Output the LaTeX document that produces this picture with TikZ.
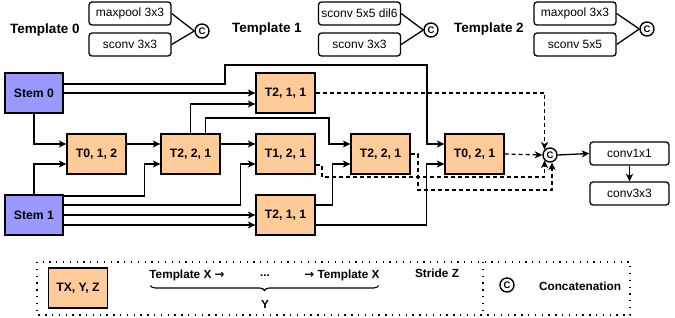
\documentclass[tikz,border=0pt]{standalone}
\usepackage{fontspec}
\setmainfont{Liberation Sans}
\newfontfamily\arrowfont{DejaVu Sans}
\usepackage{xcolor}
\usetikzlibrary{arrows.meta, calc, decorations.pathreplacing}

\definecolor{stemblue}{RGB}{153,153,255}
\definecolor{blockorange}{RGB}{255,204,153}

\begin{document}
\begin{tikzpicture}[
    x=1pt, y=-1pt,
    line width=1.3pt,
    stem/.style={draw, rectangle, minimum width=58pt, minimum height=40pt, fill=stemblue, font=\fontsize{12.2}{14}\selectfont\bfseries},
    block/.style={draw, rectangle, minimum width=59pt, minimum height=40pt, fill=blockorange, font=\fontsize{12.2}{14}\selectfont\bfseries},
    opbox/.style={draw, rectangle, rounded corners=3pt, minimum width=82pt, minimum height=23pt, inner sep=1pt, font=\fontsize{12}{14}\selectfont},
    convbox/.style={draw, rectangle, rounded corners=3pt, minimum width=79pt, minimum height=23pt, font=\fontsize{12}{14}\selectfont},
    concat/.style={draw, circle, minimum size=14pt, inner sep=0pt, line width=1.4pt, font=\fontsize{9.5}{9.5}\selectfont\bfseries},
    tplname/.style={font=\fontsize{13.5}{15}\selectfont\bfseries},
    legtext/.style={font=\fontsize{11.8}{13}\selectfont\bfseries},
    arr/.style={-{Stealth[length=7.5pt, width=7pt, inset=2pt]}},
    dashline/.style={dash pattern=on 4pt off 3pt},
    legendline/.style={dash pattern=on 1.3pt off 5.5pt}
]
    \useasboundingbox (0,0) rectangle (675,318);

    % ================= TEMPLATES =================
    \node[tplname] (tpl0) at (45,30) {Template 0};
    \node[opbox] (t0op1) at (130,13.5) {maxpool 3x3};
    \node[opbox] (t0op2) at (130,44.5) {sconv 3x3};
    \node[concat] (t0cat) at (202,31) {C};
    \draw (t0op1.east) -- (t0cat.west);
    \draw (t0op2.east) -- (t0cat.west);

    \node[tplname] (tpl1) at (267,29) {Template 1};
    \node[opbox] (t1op1) at (359.5,13.5) {sconv 5x5 dil6};
    \node[opbox] (t1op2) at (359.5,44.5) {sconv 3x3};
    \node[concat] (t1cat) at (431,30) {C};
    \draw (t1op1.east) -- (t1cat.west);
    \draw (t1op2.east) -- (t1cat.west);

    \node[tplname] (tpl2) at (489,29) {Template 2};
    \node[opbox] (t2op1) at (575,13.5) {maxpool 3x3};
    \node[opbox] (t2op2) at (575,44.5) {sconv 5x5};
    \node[concat] (t2cat) at (647,29) {C};
    \draw (t2op1.east) -- (t2cat.west);
    \draw (t2op2.east) -- (t2cat.west);

    % ================= CELL NODES =================
    \node[stem] (S0) at (34,93) {Stem 0};
    \node[stem] (S1) at (34,215) {Stem 1};
    \node[block] (T012) at (96.5,154) {T0, 1, 2};
    \node[block] (T221a) at (190.5,154) {T2, 2, 1};
    \node[block] (T211a) at (285.5,93) {T2, 1, 1};
    \node[block] (T121) at (285.5,154) {T1, 2, 1};
    \node[block] (T211b) at (285.5,215) {T2, 1, 1};
    \node[block] (T221b) at (380.5,154) {T2, 2, 1};
    \node[block] (T021) at (474.5,154) {T0, 2, 1};
    \node[concat] (cat) at (550,155) {C};
    \node[convbox] (conv1) at (629.5,153.5) {conv1x1};
    \node[convbox] (conv3) at (629.5,193.5) {conv3x3};

    % ================= STEM CONNECTIONS =================
    \draw[arr] ($(S0.east)+(0,-9)$) -| (225,65) -| (427,144) -- ($(T021.west)+(0,-10)$);
    \draw[arr] (S0.east) -- (T211a.west);
    \draw[arr] (S0.south) |- ($(T012.west)+(0,-10)$);

    \draw[arr] (S1.north) |- ($(T012.west)+(0,10)$);
    \draw[arr] ($(S1.east)+(0,-19)$) -| ($(T221a.west)+(-16,10)$) -- ($(T221a.west)+(0,10)$);
    \draw[arr] ($(S1.east)+(0,-10)$) -| ($(T121.west)+(-15,10)$) -- ($(T121.west)+(0,10)$);
    \draw[arr] (S1.east) -- (T211b.west);
    \draw[arr] ($(S1.east)+(0,10)$) -- ($(T211b.west)+(0,10)$);

    % ================= INNER CONNECTIONS =================
    \draw[arr] ($(T012.east)+(0,-10)$) -- ($(T221a.west)+(0,-10)$);
    \draw[arr] ($(T221a.east)+(0,-10)$) -- ($(T121.west)+(0,-10)$);
    \draw[arr] (T221a.north) |- ($(T211a.west)+(0,11)$);
    \draw[arr] ($(T221a.north)+(15,0)$) |- (329,118) |- ($(T221b.west)+(0,-10)$);
    \draw[arr] ($(T211b.east)+(0,-10)$) -| ($(T221b.west)+(-18,10)$) -- ($(T221b.west)+(0,10)$);
    \draw[arr] ($(T211b.east)+(0,10)$) -| ($(T021.west)+(-18,10)$) -- ($(T021.west)+(0,10)$);

    % ================= OUTPUTS TO CONCATENATION =================
    \draw[arr, dashline] (T211a.east) -| (cat.north west);
    \draw[arr, dashline] (T021.east) -- (cat.west);
    \draw[arr, dashline] ($(T121.east)+(0,11)$) -| (322,177) -| (cat.south west);
    \draw[arr, dashline] (T221b.east) -| (418,190) -| (cat.285);

    \draw[arr] (cat.east) -- (conv1.west);
    \draw[arr] (conv1.south) -- (conv3.north);

    % ================= LEGEND =================
    \draw[legendline] (37,262) rectangle (630,315);
    \draw[legendline] (483,262) -- (483,315);
    \node[block] (legT) at (78,288) {TX, Y, Z};
    \node[legtext] (legA) at (187,275) {Template X {\arrowfont\bfseries →}};
    \node[legtext] (legdots) at (265,276) {...};
    \node[legtext] (legB) at (342,275) {{\arrowfont\bfseries →} Template X};
    \draw[decorate, decoration={brace, mirror, amplitude=5pt}, line width=1.1pt]
        ($(legA.south west)+(5,1)$) -- ($(legB.south east)+(-5,1)$);
    \node[legtext] (legY) at (265,304) {Y};
    \node[legtext] (legstride) at (437,273) {Stride Z};
    \node[concat] (legcat) at (507,285) {C};
    \node[legtext] (legconcat) at (580,286) {Concatenation};

\end{tikzpicture}
\end{document}
